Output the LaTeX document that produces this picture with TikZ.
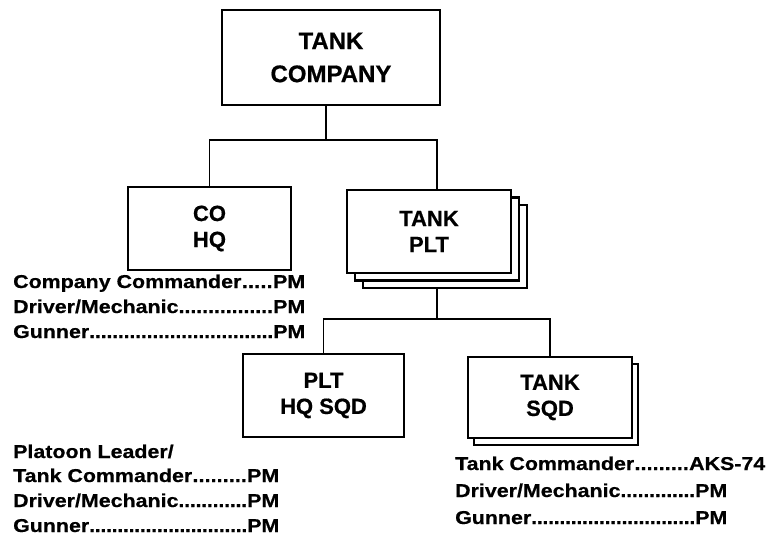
\documentclass[tikz,border=0pt]{standalone}
\usepackage{fontspec}
\setmainfont{Liberation Sans}[FakeBold=0.6]
\newfontfamily\labfont{Liberation Sans}[FakeStretch=1.15,FakeBold=0.6]
\usetikzlibrary{shadows}
\newcommand\dotlead{\xleaders\hbox to 0.3em{\hss.\hss}\hfill}
\newcommand\entry[3]{\hbox to #1{#2\dotlead #3}}
\tikzset{
  boxline/.style={draw=black, line width=2.4pt, fill=white, inner sep=0pt},
  unitbox/.style={boxline, align=center, font=\fontsize{22}{26}\selectfont\bfseries},
  topbox/.style={boxline, align=center, font=\fontsize{24}{33}\selectfont\bfseries},
  conn/.style={draw=black, line width=1.8pt},
  lab/.style={anchor=base west, inner sep=0pt, font=\fontsize{18.6}{22}\labfont\bfseries},
}
\begin{document}
\begin{tikzpicture}[x=1pt,y=-1pt]
\useasboundingbox (0,0) rectangle (774,544);
% boxes
\node[topbox, minimum width=218pt, minimum height=95pt] (top) at (331,57.5) {TANK\\COMPANY};
\node[unitbox, minimum width=163pt, minimum height=83pt] (cohq) at (209.5,228.5) {CO\\HQ};
\node[unitbox, minimum width=164pt, minimum height=83pt,
  double copy shadow={shadow xshift=8pt, shadow yshift=-7.5pt, draw=black, fill=white, line width=2.4pt}] (plt) at (429,231.5) {TANK\\PLT};
\node[unitbox, minimum width=161pt, minimum height=83pt] (plthq) at (323.5,395.5) {PLT\\HQ SQD};
\node[unitbox, minimum width=164pt, minimum height=81pt,
  copy shadow={shadow xshift=6pt, shadow yshift=-7pt, draw=black, fill=white, line width=2.4pt}] (tanksqd) at (550,397.5) {TANK\\SQD};
% connectors
\coordinate (b1) at (326,140);
\coordinate (b2) at (437,319);
\draw[conn] (top.south -| b1) -- (b1);
\draw[conn] (cohq.north) |- ([xshift=8pt]plt.north |- b1) -- ([xshift=8pt]plt.north);
\draw[conn] ([yshift=-15pt]plt.south -| b2) -- (b2);
\draw[conn] (plthq.north) |- (tanksqd.north |- b2) -- (tanksqd.north);
% CO HQ personnel
\node[lab] (c1) at (13,288) {\entry{292pt}{Company Commander}{PM}};
\node[lab] (c2) at (13,313) {\entry{292pt}{Driver/Mechanic}{PM}};
\node[lab] (c3) at (13,338) {\entry{292pt}{Gunner}{PM}};
% PLT HQ SQD personnel
\node[lab] (p0) at (13,458) {Platoon Leader/};
\node[lab] (p1) at (13,482) {\entry{266pt}{Tank Commander}{PM}};
\node[lab] (p2) at (13,507) {\entry{266pt}{Driver/Mechanic}{PM}};
\node[lab] (p3) at (13,532) {\entry{266pt}{Gunner}{PM}};
% TANK SQD personnel
\node[lab] (s1) at (455,470) {\entry{310pt}{Tank Commander}{AKS-74}};
\node[lab] (s2) at (455,497) {\entry{272pt}{Driver/Mechanic}{PM}};
\node[lab] (s3) at (455,524) {\entry{272pt}{Gunner}{PM}};
\end{tikzpicture}
\end{document}
